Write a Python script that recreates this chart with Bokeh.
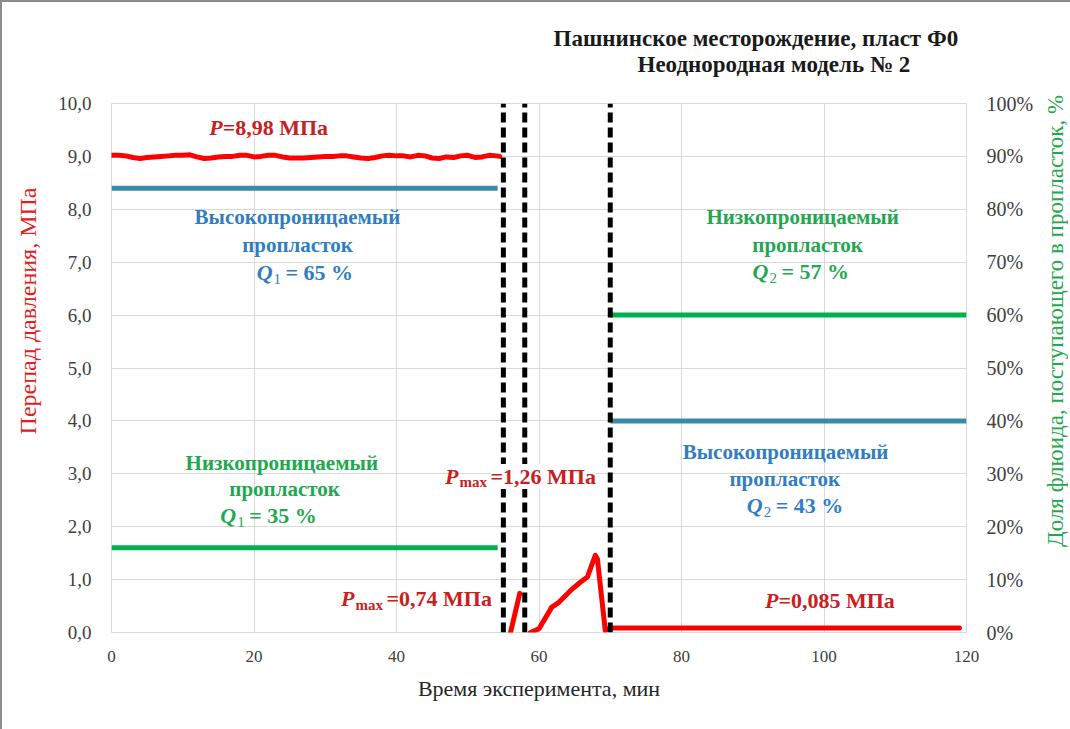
import math
from bokeh.plotting import figure
from bokeh.layouts import row
from bokeh.models import Range1d, LinearAxis, Label, FixedTicker, CustomJSTickFormatter, Title, Div
from bokeh.embed import file_html
from bokeh.resources import INLINE

# ---------------- data ----------------
# Pressure drop (MPa) vs time (min); NaN separates stages
t_stage1 = [0, 1, 2, 3, 4, 5, 6, 7, 8, 9, 10, 11, 12, 13, 14, 15, 16, 17, 18, 19, 20,
            21, 22, 23, 24, 25, 26, 27, 28, 29, 30, 31, 32, 33, 34, 35, 36, 37, 38, 39,
            40, 41, 42, 43, 44, 45, 46, 47, 48, 49, 50, 51, 52, 53, 54, 54.5]
p_stage1 = [9.02, 9.02, 9.01, 8.98, 8.96, 8.98, 8.99, 9.00, 9.01, 9.02, 9.02, 9.03, 8.99,
            8.96, 8.97, 8.99, 9.00, 9.00, 9.02, 9.02, 8.99, 9.00, 9.02, 9.02, 8.99, 8.97,
            8.97, 8.97, 8.98, 8.99, 9.00, 9.00, 9.01, 9.01, 8.99, 8.97, 8.96, 8.98, 9.01,
            9.02, 9.01, 9.01, 8.99, 9.02, 9.01, 8.97, 8.96, 8.99, 8.98, 9.01, 9.02, 8.98,
            8.99, 9.02, 9.01, 9.00]
t_stage2 = [56.0, 57.3]
p_stage2 = [0.0, 0.74]
t_stage3 = [58.8, 60.0, 61.8, 62.8, 64.4, 65.8, 66.8, 67.9, 68.2, 69.3, 70.0, 119.0]
p_stage3 = [0.0, 0.07, 0.48, 0.57, 0.79, 0.95, 1.05, 1.46, 1.39, 0.04, 0.085, 0.085]

# Share of fluid entering each layer (%)
t_share_before = [0, 54.2]
high_perm_before = [84, 84]
low_perm_before = [16, 16]
t_share_after = [70, 120]
low_perm_after = [60, 60]
high_perm_after = [40, 40]

# Stage boundaries (min)
boundaries = [55, 58, 70]

x_ticks = [0, 20, 40, 60, 80, 100, 120]
y_ticks = [0, 1, 2, 3, 4, 5, 6, 7, 8, 9, 10]
y2_ticks = [0, 10, 20, 30, 40, 50, 60, 70, 80, 90, 100]

# ---------------- figure ----------------
SERIF = "Liberation Serif"
RED_LINE = "#FF0000"
RED_TXT = "#C8201E"
TEAL = "#3A8BA6"
BLUE_TXT = "#2F7EBF"
GREEN = "#00B050"
GREEN_TXT = "#1FA84F"
NB = "\u00a0"

p = figure(width=1040, height=718, output_backend="svg", toolbar_location=None,
           x_range=Range1d(0, 120), y_range=Range1d(0, 10),
           min_border_left=109, min_border_right=76, min_border_top=101,
           min_border_bottom=88)
p.outline_line_color = "#d9d9d9"
p.background_fill_color = "white"
p.border_fill_color = "white"

p.extra_y_ranges = {"share": Range1d(0, 100)}

p.xgrid.ticker = FixedTicker(ticks=x_ticks)
p.ygrid.ticker = FixedTicker(ticks=y_ticks)
p.xgrid.grid_line_color = "#d9d9d9"
p.ygrid.grid_line_color = "#d9d9d9"

def style_axis(ax, size):
    ax.axis_line_color = None
    ax.major_tick_line_color = None
    ax.minor_tick_line_color = None
    ax.major_label_text_font = SERIF
    ax.major_label_text_font_size = size
    ax.major_label_text_color = "#404040"
    ax.axis_label_text_font = SERIF
    ax.axis_label_text_font_style = "normal"

xa = p.xaxis[0]
xa.ticker = FixedTicker(ticks=x_ticks)
style_axis(xa, "17px")
xa.axis_label = "Время эксперимента, мин"
xa.axis_label_text_font_size = "22px"
xa.axis_label_text_color = "#262626"
xa.major_label_standoff = 12
xa.axis_label_standoff = 11

ya = p.yaxis[0]
ya.ticker = FixedTicker(ticks=y_ticks)
ya.formatter = CustomJSTickFormatter(code="return tick.toFixed(1).replace('.', ',');")
style_axis(ya, "19px")
ya.axis_label = NB * 19 + "Перепад давления, МПа"
ya.axis_label_text_font_size = "24px"
ya.axis_label_text_color = "#E02020"
ya.major_label_standoff = 14
ya.axis_label_standoff = 14

y2 = LinearAxis(y_range_name="share", ticker=FixedTicker(ticks=y2_ticks),
                formatter=CustomJSTickFormatter(code="return tick + '%';"))
style_axis(y2, "20px")
y2.major_label_standoff = 14
p.add_layout(y2, "right")

# title (two lines, nearest line added first)
p.add_layout(Title(text="Неоднородная модель № 2", align="left", offset=526,
                   text_font=SERIF, text_font_size="23px", text_font_style="bold",
                   text_color="#1a1a1a", standoff=54), "above")
p.add_layout(Title(text="Пашнинское месторождение, пласт Ф0", align="left", offset=442,
                   text_font=SERIF, text_font_size="23px", text_font_style="bold",
                   text_color="#1a1a1a", standoff=-56), "above")

# share lines
p.line(t_share_before, high_perm_before, y_range_name="share", line_color=TEAL, line_width=5)
p.line(t_share_before, low_perm_before, y_range_name="share", line_color=GREEN, line_width=5)
p.line(t_share_after, low_perm_after, y_range_name="share", line_color=GREEN, line_width=5)
p.line(t_share_after, high_perm_after, y_range_name="share", line_color=TEAL, line_width=5)

# pressure
t_all = t_stage1 + [math.nan] + t_stage2 + [math.nan] + t_stage3
p_all = p_stage1 + [math.nan] + p_stage2 + [math.nan] + p_stage3
p.line(t_all, p_all, line_color=RED_LINE, line_width=5, line_join="round", line_cap="round")

# stage boundaries
p.segment(x0=boundaries, y0=[0] * len(boundaries), x1=boundaries, y1=[10] * len(boundaries),
          line_color="black", line_width=5, line_dash="10 5")

# ---------------- text ----------------
def lab(x, y, text, color, size="21px", style="bold", align="center", xo=0, yo=0, bg=None):
    p.add_layout(Label(x=x, y=y, text=text, text_color=color, text_font=SERIF,
                       text_font_size=size, text_font_style=style, text_align=align,
                       text_baseline="middle", x_offset=xo, y_offset=yo,
                       background_fill_color=bg))

def sub_label(x, y, main, sub, rest, color, size="22px", bg=None):
    # italic symbol, subscript and the remaining text
    lab(x, y, main, color, size, "bold italic", "right")
    lab(x, y, sub, color, "15px", "normal" if sub.isdigit() else "bold", "left", xo=1, yo=-6)
    w = 13 if sub.isdigit() else 32
    lab(x, y, rest, color, size, "bold", "left", xo=w, bg=bg)

# P = 8,98
lab(15.6, 9.55, "P", RED_TXT, "22px", "bold italic", "right")
lab(15.6, 9.55, "=8,98 МПа", RED_TXT, "22px", "bold", "left")

# left texts
lab(26.1, 7.85, "Высокопроницаемый", BLUE_TXT)
lab(26.1, 7.32, "пропласток", BLUE_TXT)
sub_label(22.6, 6.80, "Q", "1", "= 65 %", BLUE_TXT)

lab(23.9, 3.21, "Низкопроницаемый", GREEN_TXT)
lab(24.3, 2.72, "пропласток", GREEN_TXT)
sub_label(17.5, 2.21, "Q", "1", "= 35 %", GREEN_TXT)

# right texts
lab(97.0, 7.85, "Низкопроницаемый", GREEN_TXT)
lab(97.7, 7.33, "пропласток", GREEN_TXT)
sub_label(92.2, 6.82, "Q", "2", "= 57 %", GREEN_TXT)

lab(94.6, 3.42, "Высокопроницаемый", BLUE_TXT)
lab(94.5, 2.91, "пропласток", BLUE_TXT)
sub_label(91.4, 2.40, "Q", "2", "= 43 %", BLUE_TXT)

# pressure annotations
sub_label(48.7, 2.95, "P", "max", "=1,26 МПа", RED_TXT, bg="white")
sub_label(34.1, 0.64, "P", "max", "=0,74 МПа", RED_TXT)
lab(93.6, 0.60, "P", RED_TXT, "22px", "bold italic", "right")
lab(93.6, 0.60, "=0,085 МПа", RED_TXT, "22px", "bold", "left")

# right axis title, reading bottom-to-top
right_title = Div(
    text=('<div style="writing-mode: vertical-rl; transform: rotate(180deg); '
          'height: 440px; margin-top: 100px; margin-left: -4px; text-align: center; '
          'font-family: \'Liberation Serif\'; font-size: 23px; font-style: normal; '
          'color: ' + GREEN_TXT + '; white-space: nowrap; line-height: 26px;">'
          'Доля флюида, поступающего в пропласток, %</div>'),
    width=26, height=718, styles={"background-color": "white", "font-style": "normal"})

layout = row(p, right_title, spacing=0,
             styles={"border-left": "2px solid #8c8c8c", "border-top": "2px solid #8c8c8c"})

open("out.html", "w").write(file_html(layout, INLINE))
